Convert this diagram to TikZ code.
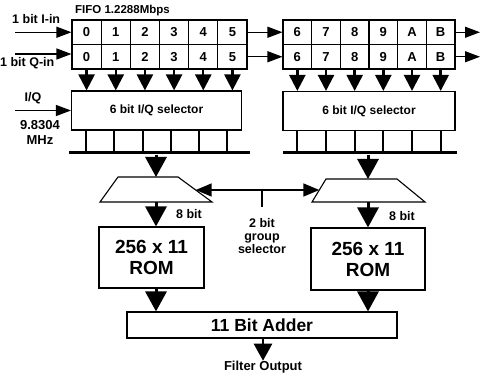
\documentclass[tikz,border=0pt]{standalone}
\usepackage{fontspec}
\setmainfont{Liberation Sans}
\usetikzlibrary{arrows.meta}
\begin{document}
\begin{tikzpicture}[x=1pt,y=-1pt,
  box/.style={draw,line width=1.1pt,inner sep=0pt},
  cell/.style={box,minimum height=24.5pt,font=\bfseries\fontsize{13}{13}\selectfont},
  sel/.style={box,minimum width=170pt,minimum height=39pt,font=\bfseries\fontsize{12}{12}\selectfont},
  rom/.style={box,align=center,font=\bfseries\fontsize{19}{21}\selectfont},
  trap/.style={draw,line width=1.1pt,line join=miter},
  bar/.style={fill=black,inner sep=0pt,minimum height=3pt},
  lbl/.style={font=\bfseries\fontsize{12.5}{13}\selectfont,inner sep=0pt,align=center},
  darr/.style={line width=2.4pt,-{Triangle[width=16pt,length=16pt]}},
  bigarr/.style={line width=3pt,-{Triangle[width=21pt,length=20pt]}},
  outarr/.style={line width=2.6pt,-{Triangle[width=18pt,length=17pt]}},
  harr/.style={line width=1.2pt,-{Triangle[width=11pt,length=15pt]}},
  tick/.style={line width=1.1pt}
]
\useasboundingbox (0,0) rectangle (487,382);
% FIFO left
\foreach \i in {0,...,5}{
  \node[cell,minimum width=29.17pt] (a\i) at ({72+29.17*(\i+0.5)},32.25) {\i};
  \node[cell,minimum width=29.17pt] (qa\i) at ({72+29.17*(\i+0.5)},56.75) {\i};
}
\foreach \i/\t in {0/6,1/7,2/8,3/9,4/A,5/B}{
  \node[cell,minimum width=28.67pt] (b\i) at ({283+28.67*(\i+0.5)},32.25) {\t};
  \node[cell,minimum width=28.67pt] (qb\i) at ({283+28.67*(\i+0.5)},56.75) {\t};
}
\node[lbl,font=\bfseries\fontsize{11.5}{12}\selectfont,anchor=west] (fifo) at (75,11) {FIFO 1.2288Mbps};
% selectors
\node[sel] (selL) at (156.5,110.5) {6 bit I/Q selector};
\node[sel,minimum width=172pt] (selR) at (369,111) {6 bit I/Q selector};
\foreach \i in {0,...,5}{
  \draw[darr] (qa\i.south) -- (qa\i.south |- selL.north);
  \draw[darr] (qb\i.south) -- (qb\i.south |- selR.north);
}
% bars
\node[bar,minimum width=181pt] (barL) at (159.5,153) {};
\node[bar,minimum width=174pt] (barR) at (370,153) {};
\foreach \x in {86,114,143,171,199,227}
  \draw[tick] (selL.south -| \x,0) -- (barL.north -| \x,0);
\foreach \x in {297,326,355,383,412,441}
  \draw[tick] (selR.south -| \x,0) -- (barR.north -| \x,0);
% trapezia (drawn shapes with named points)
\draw[trap] (118,177) -- (178,177) -- (212,202) -- (100,202) -- cycle;
\draw[trap] (326,179) -- (397,179) -- (425,202) -- (312,202) -- cycle;
\coordinate (trapLn) at (156,177);
\coordinate (trapLs) at (156,202);
\coordinate (trapLe) at (195.7,190);
\coordinate (trapRn) at (368,179);
\coordinate (trapRs) at (368,202);
\coordinate (trapRw) at (319.3,190);
\draw[bigarr] (barL.south -| trapLn) -- (trapLn);
\draw[bigarr] (barR.south -| trapRn) -- (trapRn);
% group selector
\draw[line width=1.6pt,{Triangle[width=13pt,length=16pt]}-{Triangle[width=13pt,length=16pt]}] (trapLe) -- (trapRw);
\coordinate (gsb) at (262,207);
\draw[line width=1.6pt] (gsb) -- (gsb |- trapLe);
\node[lbl,font=\bfseries\fontsize{12.5}{12.8}\selectfont] (gtxt) at (262,236) {2 bit\\group\\selector};
% ROMs
\node[rom,minimum width=105pt,minimum height=61pt] (romL) at (151.5,257.5) {256 x 11\\ROM};
\node[rom,minimum width=114pt,minimum height=62pt] (romR) at (368,259) {256 x 11\\ROM};
\draw[bigarr] (trapLs) -- (trapLs |- romL.north);
\draw[bigarr] (trapRs) -- (trapRs |- romR.north);
\node[lbl] (b8L) at (189,214) {8 bit};
\node[lbl] (b8R) at (402,216) {8 bit};
% adder
\node[box,minimum width=270pt,minimum height=26pt,font=\bfseries\fontsize{17.5}{18}\selectfont] (adder) at (262,325) {11 Bit Adder};
\draw[bigarr] (romL.south -| trapLs) -- (adder.north -| trapLs);
\draw[bigarr] (romR.south -| trapRs) -- (adder.north -| trapRs);
\node[lbl,font=\bfseries\fontsize{13}{13}\selectfont] (out) at (263,367) {Filter Output};
\draw[outarr] (adder.south -| out.north) -- (out.north);
% inputs
\node[lbl,anchor=west] (iin) at (12,19) {1 bit I-in};
\node[lbl,anchor=west] (qin) at (0,63) {1 bit Q-in};
\node[lbl] (iq) at (33,98) {I/Q};
\node[lbl,font=\bfseries\fontsize{13}{15}\selectfont] (freq) at (40,132.5) {9.8304\\MHz};
\coordinate (inI) at (15,32.25);
\coordinate (inQ) at (15,54);
\coordinate (inIQ) at (15,110.5);
\draw[harr] (inI) -- (a0.west);
\draw[harr] (inQ) -- (inQ -| qa0.west);
\draw[harr] (inIQ) -- (selL.west);
\draw[harr] (a5.east) -- (b0.west);
\draw[harr] (qa5.east) -- (qb0.west);
\coordinate (outI) at (480,32.25);
\coordinate (outQ) at (480,56.75);
\draw[harr] (b5.east) -- (outI);
\draw[harr] (qb5.east) -- (outQ);
\end{tikzpicture}
\end{document}
